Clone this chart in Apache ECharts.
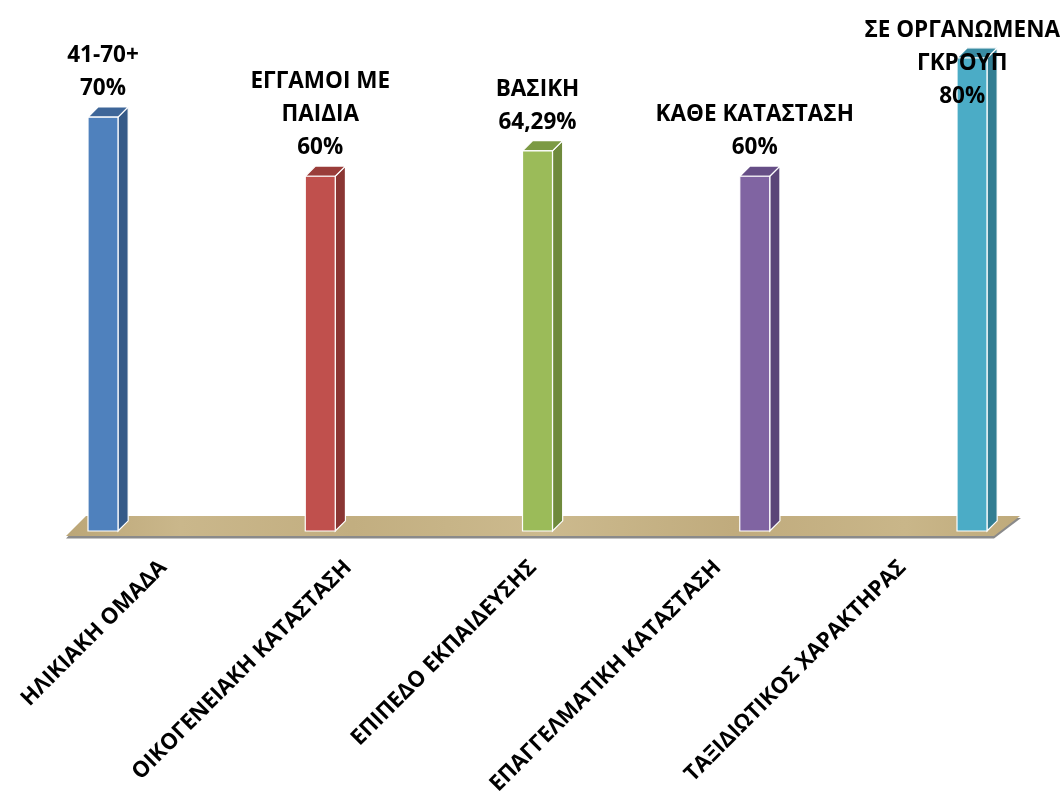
<!DOCTYPE html>
<html>
<head>
<meta charset="utf-8">
<script src="https://cdn.jsdelivr.net/npm/echarts@6/dist/echarts.min.js"></script>
<style>
html,body{margin:0;padding:0;background:#fff;}
#chart{width:1062px;height:798px;}
</style>
</head>
<body>
<div id="chart"></div>
<script>
// ---- data ----
const categories = ['ΗΛΙΚΙΑΚΗ ΟΜΑΔΑ', 'ΟΙΚΟΓΕΝΕΙΑΚΗ ΚΑΤΑΣΤΑΣΗ', 'ΕΠΙΠΕΔΟ ΕΚΠΑΙΔΕΥΣΗΣ', 'ΕΠΑΓΓΕΛΜΑΤΙΚΗ ΚΑΤΑΣΤΑΣΗ', 'ΤΑΞΙΔΙΩΤΙΚΟΣ ΧΑΡΑΚΤΗΡΑΣ'];
const groupNames = ['41-70+', 'ΕΓΓΑΜΟΙ ΜΕ\nΠΑΙΔΙΑ', 'ΒΑΣΙΚΗ', 'ΚΑΘΕ ΚΑΤΑΣΤΑΣΗ', 'ΣΕ ΟΡΓΑΝΩΜΕΝΑ\nΓΚΡΟΥΠ'];
const values = [70, 60, 64.29, 60, 80];
const valueLabels = ['70%', '60%', '64,29%', '60%', '80%'];

// ---- styles ----
const frontColors = ['#4F81BD', '#C0504D', '#9BBB59', '#8064A2', '#4BACC6'];
const sideColors  = ['#355A88', '#8A3633', '#6F8A3C', '#5B4578', '#327D92'];
const topColors   = ['#3E6699', '#9A3D3A', '#7C9A44', '#664E86', '#3A8CA3'];

const FONT = '"Open Sans", "Noto Sans", sans-serif';
const LABEL_SIZE = 22.5;
const AXIS_SIZE = 22;
const LINE_H = 33;

const measureCtx = document.createElement('canvas').getContext('2d');
measureCtx.font = 'bold ' + LABEL_SIZE + 'px ' + FONT;
function textWidth(s) {
  return Math.max.apply(null, s.split('\n').map(l => measureCtx.measureText(l).width));
}

const chart = echarts.init(document.getElementById('chart'));

function renderBar(params, api) {
  const i = params.dataIndex;
  const base = api.coord([api.value(0), 0]);
  const top = api.coord([api.value(0), api.value(1)]);
  const band = api.size([1, 0])[0];
  const w = band * 0.138;
  const d = w * 0.34;
  const cx = base[0];
  const x0 = cx - w / 2, x1 = cx + w / 2;
  const yb = base[1], yt = top[1];
  const white = { stroke: '#ffffff', lineWidth: 1.2 };
  const text = groupNames[i] + '\n' + valueLabels[i];
  const nLines = text.split('\n').length;
  const cs = params.coordSys;
  let textTop = yt - 12 - nLines * LINE_H;
  if (textTop < cs.y - 44) { textTop = cs.y - 44; }
  let tx = cx;
  const tw = textWidth(text);
  const chartW = api.getWidth();
  if (tx + tw / 2 > chartW - 2) tx = chartW - 2 - tw / 2;
  return {
    type: 'group',
    children: [
      { type: 'polygon', shape: { points: [[x1, yb], [x1 + d, yb - d], [x1 + d, yt - d], [x1, yt]] },
        style: Object.assign({ fill: sideColors[i] }, white) },
      { type: 'polygon', shape: { points: [[x0, yt], [x1, yt], [x1 + d, yt - d], [x0 + d, yt - d]] },
        style: Object.assign({ fill: topColors[i] }, white) },
      { type: 'rect', shape: { x: x0, y: yt, width: w, height: yb - yt },
        style: Object.assign({ fill: frontColors[i] }, white) },
      { type: 'text', z2: 10, style: {
          text: text, x: tx, y: textTop, align: 'center', verticalAlign: 'top',
          font: 'bold ' + LABEL_SIZE + 'px ' + FONT, lineHeight: LINE_H, fill: '#000' } }
    ]
  };
}

function renderFloor(params, api) {
  const first = api.coord([0, 0]);
  const last = api.coord([categories.length - 1, 0]);
  const y = first[1];
  const fl = first[0] - 37, fr = last[0] + 22;
  const bl = first[0] - 17, br = last[0] + 48;
  const yf = y + 5, yk = y - 15;
  return {
    type: 'group',
    children: [
      { type: 'polygon', shape: { points: [[fl, yf + 2.5], [fr, yf + 2.5], [br + 1, yk + 2], [bl, yk + 2]] },
        style: { fill: '#8a8a8a' } },
      { type: 'polygon', shape: { points: [[fl, yf], [fr, yf], [br, yk], [bl, yk]] },
        style: { fill: new echarts.graphic.LinearGradient(0, 0, 1, 0, [
          { offset: 0, color: '#BBA677' }, { offset: 0.12, color: '#CAB78B' },
          { offset: 0.3, color: '#C2AE80' }, { offset: 0.5, color: '#CCBA8E' },
          { offset: 0.7, color: '#C0AB7D' }, { offset: 0.88, color: '#C9B689' },
          { offset: 1, color: '#BFAA7B' }]) } }
    ]
  };
}

chart.setOption({
  animation: false,
  backgroundColor: '#ffffff',
  grid: [
    { left: 103, right: 90, top: 58, bottom: 267 },
    { left: 71, right: 67, top: 58, bottom: 267 }
  ],
  xAxis: [
    { type: 'category', gridIndex: 0, data: categories, boundaryGap: false, axisLine: { show: false },
      axisTick: { show: false }, axisLabel: { show: false } },
    { type: 'category', gridIndex: 1, data: categories, axisLine: { show: false },
      axisTick: { show: false },
      axisLabel: { interval: 0, rotate: 45, margin: 50, fontSize: AXIS_SIZE, fontWeight: 'bold',
        fontFamily: FONT, color: '#000' } }
  ],
  yAxis: [
    { type: 'value', gridIndex: 0, min: 0, max: 80, show: false, splitLine: { show: false } },
    { type: 'value', gridIndex: 1, min: 0, max: 80, show: false, splitLine: { show: false } }
  ],
  series: [
    { type: 'custom', xAxisIndex: 0, yAxisIndex: 0, renderItem: renderFloor, data: [[0, 0]], z: 1, silent: true, clip: false },
    { type: 'custom', xAxisIndex: 0, yAxisIndex: 0, renderItem: renderBar, z: 2,
      data: values.map((v, i) => [i, v]), clip: false }
  ]
});
</script>
</body>
</html>
